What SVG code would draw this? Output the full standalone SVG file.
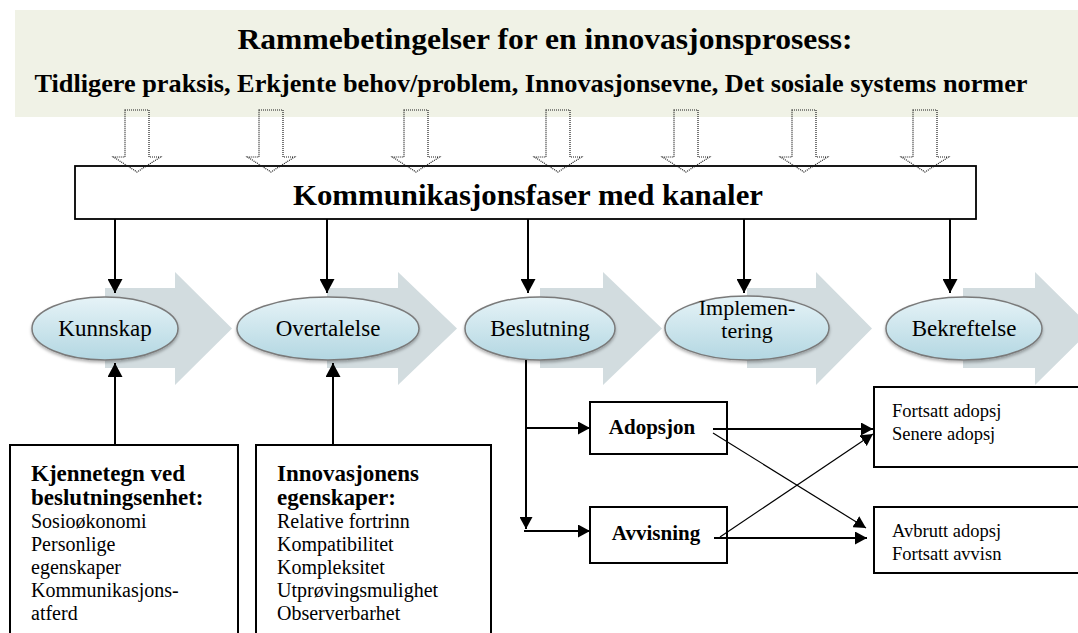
<svg xmlns="http://www.w3.org/2000/svg" width="1078" height="633" viewBox="0 0 1078 633">
<defs>
<linearGradient id="eg" x1="0" y1="0" x2="0" y2="1">
<stop offset="0" stop-color="#E6F3F7"/>
<stop offset="1" stop-color="#B3D7E2"/>
</linearGradient>
<filter id="sh" x="-10%" y="-20%" width="120%" height="150%">
<feDropShadow dx="0" dy="2" stdDeviation="1.5" flood-color="#000" flood-opacity="0.3"/>
</filter>
<marker id="ah" markerUnits="userSpaceOnUse" markerWidth="15" markerHeight="15" refX="14" refY="7.5" orient="auto">
<path d="M0,0 L14,7.5 L0,15 Z" fill="#000"/>
</marker>
<marker id="as" markerUnits="userSpaceOnUse" markerWidth="13" markerHeight="13" refX="12" refY="6.5" orient="auto">
<path d="M0,0 L12,6.5 L0,13 Z" fill="#000"/>
</marker>
</defs>
<style>
text{font-family:'Liberation Serif','DejaVu Serif','Times New Roman',serif;fill:#000}
.b{font-weight:bold}
.hollow{fill:none;stroke:#1a1a1a;stroke-width:1.2;stroke-dasharray:1 1}
.chev{fill:#D2DCDF}
.ell{fill:url(#eg);stroke:#7A7A7A;stroke-width:1.5;filter:url(#sh)}
.box{fill:#fff;stroke:#000;stroke-width:2}
.conn{fill:none;stroke:#000;stroke-width:2}
.thin{fill:none;stroke:#000;stroke-width:1.2}
.et{font-size:23px}
.bt{font-size:23px}
.rt{font-size:20px}
.st{font-size:18.5px}
</style>

<g font-family="Liberation Serif, serif">
<g id="frame">
<rect x="15" y="10" width="1063" height="107" fill="#F0F2E6"/>
<text class="b" x="545" y="49" font-size="29" text-anchor="middle" textLength="615" lengthAdjust="spacingAndGlyphs">Rammebetingelser for en innovasjonsprosess:</text>
<text class="b" x="531" y="92" font-size="24.5" text-anchor="middle" textLength="993" lengthAdjust="spacingAndGlyphs">Tidligere praksis, Erkjente behov/problem, Innovasjonsevne, Det sosiale systems normer</text>
</g>

<g id="kommunikasjon">
<rect x="75" y="166" width="901" height="53" fill="#fff" stroke="#000" stroke-width="1.8"/>
<text class="b" x="528" y="205" font-size="28.5" text-anchor="middle" textLength="470" lengthAdjust="spacingAndGlyphs">Kommunikasjonsfaser med kanaler</text>
</g>

<g id="input-arrows">
<path class="hollow" d="M125,110 H149 V157 H160.5 L137,172 L113.5,157 H125 Z"/>
<path class="hollow" d="M259,110 H283 V157 H294.5 L271,172 L247.5,157 H259 Z"/>
<path class="hollow" d="M404,110 H428 V157 H439.5 L416,172 L392.5,157 H404 Z"/>
<path class="hollow" d="M546,110 H570 V157 H581.5 L558,172 L534.5,157 H546 Z"/>
<path class="hollow" d="M674,110 H698 V157 H709.5 L686,172 L662.5,157 H674 Z"/>
<path class="hollow" d="M792,110 H816 V157 H827.5 L804,172 L780.5,157 H792 Z"/>
<path class="hollow" d="M913,110 H937 V157 H948.5 L925,172 L901.5,157 H913 Z"/>
</g>

<g id="chevrons">
<path class="chev" d="M105,288 H175 V272 L232,328.5 L175,385 V368 H105 Z"/>
<path class="chev" d="M327,288 H398 V272 L457,328.5 L398,385 V368 H327 Z"/>
<path class="chev" d="M540,288 H603 V272 L662,328.5 L603,385 V368 H540 Z"/>
<path class="chev" d="M747,288 H816 V272 L872,328.5 L816,385 V368 H747 Z"/>
<path class="chev" d="M963,288 H1035 V272 L1092,328.5 L1035,385 V368 H963 Z"/>
</g>

<g id="kunnskap">
<ellipse class="ell" cx="105" cy="328.5" rx="73" ry="31.5"/>
<text class="et" x="105" y="336" text-anchor="middle">Kunnskap</text>
</g>
<g id="overtalelse">
<ellipse class="ell" cx="328" cy="328.5" rx="91" ry="31.5"/>
<text class="et" x="328" y="336" text-anchor="middle">Overtalelse</text>
</g>
<g id="beslutning">
<ellipse class="ell" cx="540" cy="328.5" rx="75" ry="31.5"/>
<text class="et" x="540" y="336" text-anchor="middle">Beslutning</text>
</g>
<g id="implementering">
<ellipse class="ell" cx="747" cy="328" rx="82" ry="32"/>
<text x="747" y="315" font-size="22" text-anchor="middle">Implemen-</text>
<text x="747" y="338" font-size="22" text-anchor="middle">tering</text>
</g>
<g id="bekreftelse">
<ellipse class="ell" cx="964" cy="328.5" rx="78" ry="31.5"/>
<text class="et" x="964" y="336" text-anchor="middle">Bekreftelse</text>
</g>

<g id="kjennetegn">
<rect class="box" x="10" y="445" width="228" height="200"/>
<text class="b bt" x="31" y="481">Kjennetegn ved</text>
<text class="b bt" x="31" y="505">beslutningsenhet:</text>
<text class="rt" x="31" y="528">Sosioøkonomi</text>
<text class="rt" x="31" y="551">Personlige</text>
<text class="rt" x="31" y="574">egenskaper</text>
<text class="rt" x="31" y="597">Kommunikasjons-</text>
<text class="rt" x="31" y="620">atferd</text>
</g>

<g id="innovasjonens">
<rect class="box" x="256" y="445" width="235" height="200"/>
<text class="b bt" x="277" y="481">Innovasjonens</text>
<text class="b bt" x="277" y="505">egenskaper:</text>
<text class="rt" x="277" y="528">Relative fortrinn</text>
<text class="rt" x="277" y="551">Kompatibilitet</text>
<text class="rt" x="277" y="574">Kompleksitet</text>
<text class="rt" x="277" y="597">Utprøvingsmulighet</text>
<text class="rt" x="277" y="620">Observerbarhet</text>
</g>

<g id="adopsjon">
<rect class="box" x="590" y="402" width="137" height="52"/>
<text class="b" x="652" y="434" font-size="21" text-anchor="middle">Adopsjon</text>
</g>
<g id="avvisning">
<rect class="box" x="590" y="507" width="137" height="56"/>
<text class="b" x="656" y="540" font-size="21" text-anchor="middle">Avvisning</text>
</g>
<g id="fortsatt">
<rect class="box" x="874" y="387" width="205" height="80"/>
<text class="st" x="892" y="417">Fortsatt adopsj</text>
<text class="st" x="892" y="440">Senere adopsj</text>
</g>
<g id="avbrutt">
<rect class="box" x="874" y="507" width="205" height="66"/>
<text class="st" x="892" y="537">Avbrutt adopsj</text>
<text class="st" x="892" y="560">Fortsatt avvisn</text>
</g>

<g id="connectors">
<line class="conn" x1="115" y1="219" x2="115" y2="293" marker-end="url(#ah)"/>
<line class="conn" x1="327" y1="219" x2="327" y2="293" marker-end="url(#ah)"/>
<line class="conn" x1="528" y1="219" x2="528" y2="293" marker-end="url(#ah)"/>
<line class="conn" x1="744" y1="219" x2="744" y2="293" marker-end="url(#ah)"/>
<line class="conn" x1="950" y1="219" x2="950" y2="293" marker-end="url(#ah)"/>
<line class="conn" x1="115" y1="445" x2="115" y2="363" marker-end="url(#ah)"/>
<line class="conn" x1="333" y1="445" x2="333" y2="363" marker-end="url(#ah)"/>
<line class="conn" x1="526" y1="360" x2="526" y2="529" marker-end="url(#as)"/>
<line class="conn" x1="526" y1="428" x2="590" y2="428" marker-end="url(#as)"/>
<line class="conn" x1="524" y1="531" x2="590" y2="531" marker-end="url(#as)"/>
<line class="conn" x1="713" y1="429" x2="873" y2="429" marker-end="url(#as)"/>
<line class="conn" x1="714" y1="538" x2="867" y2="538" marker-end="url(#as)"/>
<line class="thin" x1="713" y1="433" x2="866" y2="528" marker-end="url(#as)"/>
<line class="thin" x1="720" y1="537" x2="873" y2="434" marker-end="url(#as)"/>
</g>
</g>
</svg>
